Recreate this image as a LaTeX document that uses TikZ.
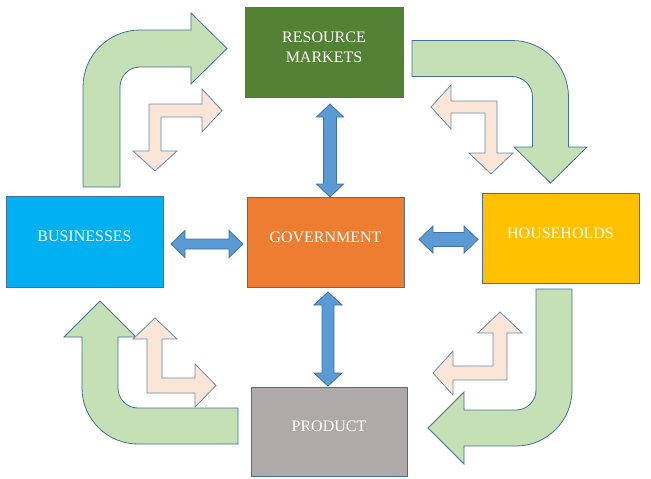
\documentclass[tikz,border=0pt]{standalone}
\usepackage{fontspec}
\setmainfont{Liberation Serif}
\usetikzlibrary{calc}
\definecolor{edge}{HTML}{41719C}
\definecolor{resgreen}{HTML}{548235}
\definecolor{govorange}{HTML}{ED7D31}
\definecolor{busblue}{HTML}{00B0F0}
\definecolor{hhyellow}{HTML}{FFC000}
\definecolor{prodgray}{HTML}{AEAAAA}
\definecolor{lgreen}{HTML}{C5E0B4}
\definecolor{lpink}{HTML}{FBE5D6}
\definecolor{ablue}{HTML}{5B9BD5}
\tikzset{
  box/.style={draw=edge, line width=0.8pt, inner sep=0pt, outer sep=0pt,
    minimum width=157pt, minimum height=90pt},
  lbl/.style={text=white, font=\fontsize{16}{20}\selectfont, align=center,
    yshift=5pt, inner sep=0pt},
  bigarrow/.style={draw=edge, line width=0.8pt, fill=lgreen},
  smallarrow/.style={draw=edge!80, line width=0.8pt, fill=lpink},
  dblarrow/.style={draw=edge, line width=0.8pt, fill=ablue},
}
% horizontal double arrow: #1 left tip, #2 right tip, #3 shaft half, #4 head half, #5 head length
\newcommand\hdarrow[5]{%
  \path[dblarrow] let \p1=(#1), \p2=(#2) in
    (\x1,\y1) -- (\x1+#5,\y1+#4) -- (\x1+#5,\y1+#3) -- (\x2-#5,\y1+#3)
    -- (\x2-#5,\y1+#4) -- (\x2,\y1) -- (\x2-#5,\y1-#4) -- (\x2-#5,\y1-#3)
    -- (\x1+#5,\y1-#3) -- (\x1+#5,\y1-#4) -- cycle;}
% vertical double arrow: #1 top tip, #2 bottom tip
\newcommand\vdarrow[5]{%
  \path[dblarrow] let \p1=(#1), \p2=(#2) in
    (\x1,\y1) -- (\x1+#4,\y1-#5) -- (\x1+#3,\y1-#5) -- (\x1+#3,\y2+#5)
    -- (\x1+#4,\y2+#5) -- (\x1,\y2) -- (\x1-#4,\y2+#5) -- (\x1-#3,\y2+#5)
    -- (\x1-#3,\y1-#5) -- (\x1-#4,\y1-#5) -- cycle;}
\begin{document}
\begin{tikzpicture}[x=1pt,y=-1pt]
\useasboundingbox (0,0) rectangle (651,479);

% big green bent arrows
\path[bigarrow] (83,187) -- (83,87) arc[start angle=180,end angle=90,radius=57pt]
  -- (191,30) -- (191,13) -- (227,48.5) -- (191,84) -- (191,67) -- (140,67)
  arc[start angle=90,end angle=180,radius=20pt] -- (120,187) -- cycle;
\path[bigarrow] (412,40.5) -- (512,40.5) arc[start angle=90,end angle=0,radius=56.5pt]
  -- (568.5,147) -- (587,147) -- (550.5,183) -- (514,147) -- (532.5,147) -- (532.5,97)
  arc[start angle=0,end angle=90,radius=20.5pt] -- (412,76.5) -- cycle;
\path[bigarrow] (536,289) -- (572,289) -- (572,390) arc[start angle=0,end angle=-90,radius=56pt]
  -- (464,446) -- (464,464) -- (428,428) -- (464,392) -- (464,410) -- (516,410)
  arc[start angle=-90,end angle=0,radius=20pt] -- cycle;
\path[bigarrow] (82,337) -- (82,388) arc[start angle=180,end angle=270,radius=56pt]
  -- (238,444) -- (238,408) -- (138,408) arc[start angle=270,end angle=180,radius=20pt]
  -- (118,337) -- (136,337) -- (100,301) -- (64,337) -- cycle;

% small pink double bent arrows
\path[smallarrow] (149,104) -- (202,104) -- (202,89) -- (222,110.5) -- (202,132) -- (202,117)
  -- (161,117) -- (161,151) -- (177,151) -- (155,171) -- (133,151) -- (149,151) -- cycle;
\path[smallarrow] (497,101) -- (451,101) -- (451,85) -- (431,107) -- (451,129) -- (451,113)
  -- (485,113) -- (485,153) -- (469,153) -- (491,174) -- (513,153) -- (497,153) -- cycle;
\path[smallarrow] (507,380) -- (453,380) -- (453,395) -- (433,373) -- (453,351) -- (453,366)
  -- (493,366) -- (493,333) -- (478,333) -- (500,312) -- (522,333) -- (507,333) -- cycle;
\path[smallarrow] (147,393) -- (147,339) -- (133,339) -- (155,318) -- (177,339) -- (162,339)
  -- (162,378) -- (195,378) -- (195,364) -- (216,385.5) -- (195,407) -- (195,393) -- cycle;

% boxes
\node[box, fill=resgreen, minimum width=158pt, label={[lbl]center:{RESOURCE\\MARKETS}}] (res) at (324,52) {};
\node[box, fill=govorange, label={[lbl]center:GOVERNMENT}] (gov) at (325.5,242) {};
\node[box, fill=busblue, minimum height=91pt, label={[lbl]center:BUSINESSES}] (bus) at (84.5,241.5) {};
\node[box, fill=hhyellow, label={[lbl]center:HOUSEHOLDS}] (hh) at (560.5,238) {};
\node[box, fill=prodgray, minimum width=156pt, minimum height=89pt, label={[lbl]center:PRODUCT}] (prod) at (329,431.5) {};

% blue double arrows between boxes
\vdarrow{$(res.south)+(6,7)$}{$(gov.north)+(4.5,0)$}{6.5}{13.5}{13}
\vdarrow{$(gov.south)+(2.5,5)$}{$(prod.north)+(-1,-1)$}{6}{14}{13}
\hdarrow{$(bus.east)+(8,2.5)$}{$(gov.west)+(-4,2)$}{5}{13.5}{14}
\hdarrow{$(gov.east)+(15,-2.5)$}{$(hh.west)+(-4,1.5)$}{7}{13.5}{14}
\end{tikzpicture}
\end{document}
